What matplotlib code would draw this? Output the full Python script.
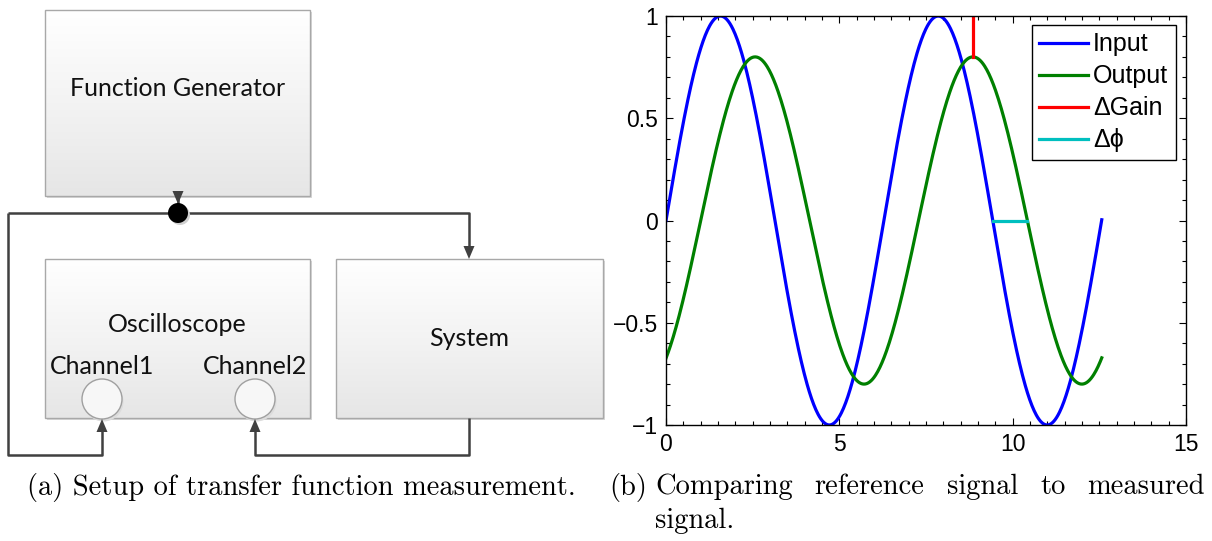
import numpy as np
import matplotlib
matplotlib.use("Agg")
import matplotlib.pyplot as plt
from matplotlib.patches import Rectangle, Circle, Polygon
from matplotlib.ticker import MultipleLocator, FixedLocator, FixedFormatter

# signal parameters (input sine vs. attenuated, lagging output)
t_end = 12.57
input_amp = 1.0
output_amp = 0.8
phase_lag = 1.0

# markers for gain and phase differences
gain_x = [8.85, 8.85]
gain_y = [0.8, 1.0]
phase_x = [9.42, 10.42]
phase_y = [0.0, 0.0]

legend_labels = ["Input", "Output", "\u0394Gain", "\u0394\u03d5"]
xticks = [0, 5, 10, 15]
yticks = [-1, -0.5, 0, 0.5, 1]
ytick_labels = ["\u22121", "\u22120.5", "0", "0.5", "1"]

W, H = 1212, 541
fig = plt.figure(figsize=(W / 100, H / 100), dpi=100)

# ---------- block diagram (pixel coordinates) ----------
dg = fig.add_axes([0, 0, 1, 1])
dg.set_xlim(0, W)
dg.set_ylim(H, 0)
dg.axis("off")

grad = np.linspace(0, 1, 256).reshape(-1, 1)
grad_cmap = matplotlib.colors.LinearSegmentedColormap.from_list(
    "box", ["#ffffff", "#f3f3f3", "#e6e6e6"])


def block(x0, y0, x1, y1, label, ty=None, size=18):
    shadow = Rectangle((x0 + 2, y0 + 2), x1 - x0, y1 - y0, fc="#d8d8d8", ec="none", zorder=1)
    dg.add_patch(shadow)
    im = dg.imshow(grad, cmap=grad_cmap, extent=(x0, x1, y1, y0), aspect="auto", zorder=2)
    r = Rectangle((x0, y0), x1 - x0, y1 - y0, fc="none", ec="#a8a8a8", lw=1.0, zorder=3)
    dg.add_patch(r)
    im.set_clip_path(r)
    if label:
        dg.text((x0 + x1) / 2, ty if ty else (y0 + y1) / 2, label, ha="center", va="center",
                fontsize=size, family="Lato", color="#111111", zorder=5)


block(45, 10, 310, 196, "Function Generator", ty=89)
block(45, 259, 310, 418, "Oscilloscope", ty=325)
block(336, 259, 603, 418, "System", ty=339)

for cx, lab in [(102, "Channel1"), (255, "Channel2")]:
    dg.add_patch(Circle((cx + 1.5, 400 + 1.5), 20, fc="#dcdcdc", ec="none", zorder=4))
    dg.add_patch(Circle((cx, 399), 20, fc="#f7f7f7", ec="#a0a0a0", lw=1.0, zorder=4.5))
    dg.text(cx, 366, lab, ha="center", va="center", fontsize=18, family="Lato",
            color="#111111", zorder=5)

wire = dict(color="#404040", lw=1.8, zorder=6, solid_capstyle="butt")
dg.plot([178, 178], [196, 205], **wire)
dg.plot([8, 469, 469], [213, 213, 248], **wire)
dg.plot([8, 8, 102, 102], [213, 455, 455, 430], **wire)
dg.plot([469, 469, 255, 255], [418, 455, 455, 430], **wire)


def head(x, y, d):
    # filled arrow head with tip at (x, y); d = +1 points down, -1 points up
    dg.add_patch(Polygon([(x, y), (x - 5.5, y - 13 * d), (x + 5.5, y - 13 * d)],
                         closed=True, fc="#404040", ec="none", zorder=7))


head(178, 204, 1)
head(469, 259, 1)
head(102, 419, -1)
head(255, 419, -1)

dg.add_patch(Circle((180, 215), 10, fc="#d0d0d0", ec="none", zorder=7))
dg.add_patch(Circle((178, 213), 10, fc="black", ec="none", zorder=8))

# ---------- captions ----------
cap = dict(family="cmr10", fontsize=20.5, va="center", color="black")
dg.text(27, 487, "(a) Setup of transfer function measurement.", ha="left", **cap)
dg.text(609, 487, "(b)", ha="left", **cap)

# first line of (b) is justified between x=655 and x=1205
words = ["Comparing", "reference", "signal", "to", "measured"]
renderer = fig.canvas.get_renderer()
wtexts = [dg.text(0, 487, w, ha="left", **cap) for w in words]
widths = [tx.get_window_extent(renderer).width for tx in wtexts]
gap = (1205 - 655 - sum(widths)) / (len(words) - 1)
xpos = 655
for tx, w in zip(wtexts, widths):
    tx.set_x(xpos)
    xpos += w + gap
dg.text(655, 521, "signal.", ha="left", **cap)

# ---------- signal plot ----------
ax = fig.add_axes([666 / W, 1 - 425 / H, 520 / W, 409 / H])
t = np.linspace(0, t_end, 600)
ax.plot(t, input_amp * np.sin(t), color=(0, 0, 1), lw=2.3, label=legend_labels[0])
ax.plot(t, output_amp * np.sin(t - phase_lag), color=(0, 0.5, 0), lw=2.3, label=legend_labels[1])
ax.plot(gain_x, gain_y, color=(1, 0, 0), lw=2.3, label=legend_labels[2])
ax.plot(phase_x, phase_y, color=(0, 0.75, 0.75), lw=2.3, label=legend_labels[3])

ax.set_xlim(0, 15)
ax.set_ylim(-1, 1)
ax.xaxis.set_major_locator(FixedLocator(xticks))
ax.xaxis.set_minor_locator(MultipleLocator(0.5))
ax.yaxis.set_major_locator(FixedLocator(yticks))
ax.yaxis.set_major_formatter(FixedFormatter(ytick_labels))
ax.yaxis.set_minor_locator(MultipleLocator(0.1))
ax.tick_params(which="both", direction="in", top=True, right=True, width=0.8,
               labelsize=16.5, colors="black")
ax.tick_params(which="major", length=5, pad=6)
ax.tick_params(which="minor", length=3)
for lab in ax.get_xticklabels() + ax.get_yticklabels():
    lab.set_family("Liberation Sans")
for s in ax.spines.values():
    s.set_linewidth(1.0)
    s.set_color("black")

leg = ax.legend(loc="upper right", bbox_to_anchor=(0.98, 0.978),
                prop={"family": ["Liberation Sans", "DejaVu Sans"], "size": 18},
                frameon=True, fancybox=False, edgecolor="black", framealpha=1,
                handlelength=1.95, handletextpad=0.2, labelspacing=0.32, borderpad=0.3,
                borderaxespad=0)
leg.get_frame().set_linewidth(1.0)

fig.savefig("out.png", dpi=100)
